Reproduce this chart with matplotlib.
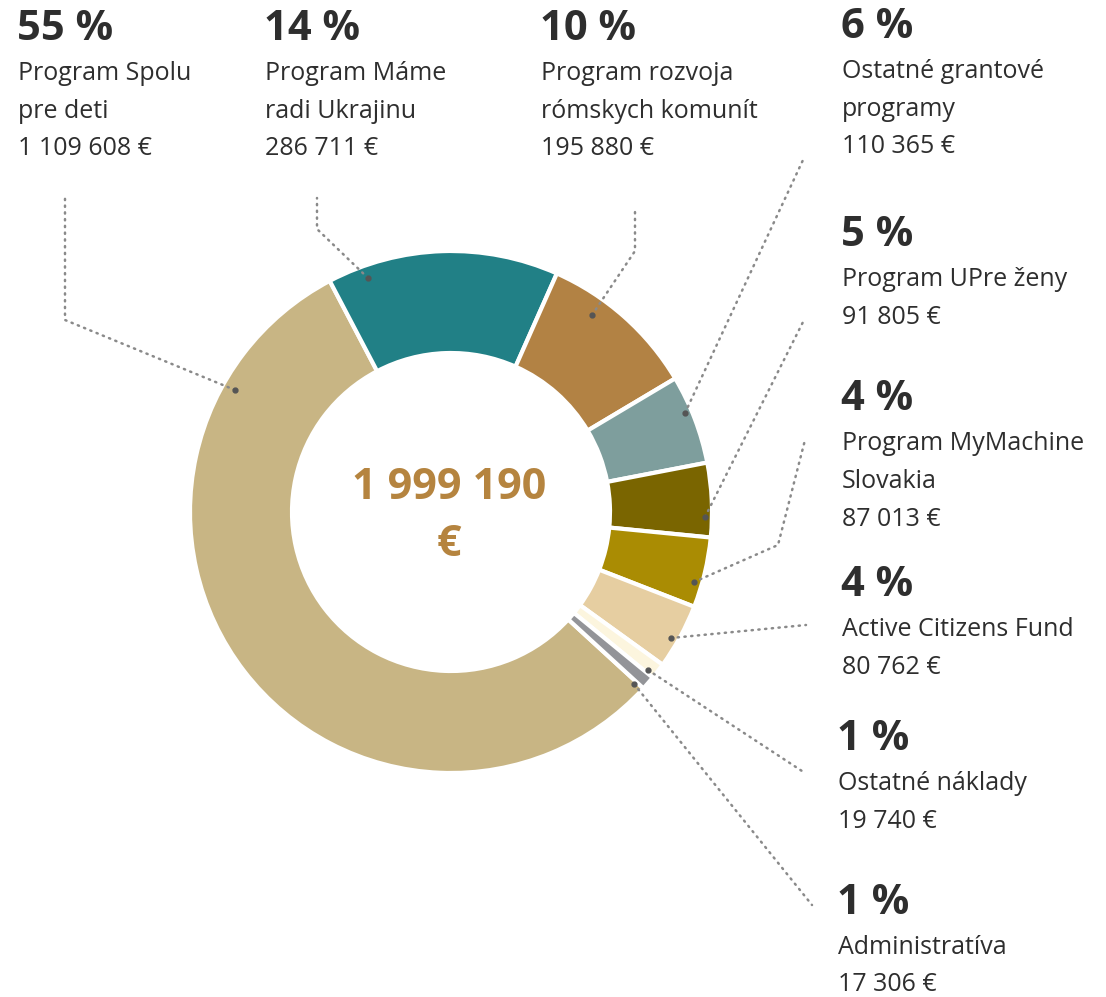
import matplotlib.pyplot as plt

# data
nazvy = [
    "Program Spolu\npre deti",
    "Program Máme\nradi Ukrajinu",
    "Program rozvoja\nrómskych komunít",
    "Ostatné grantové\nprogramy",
    "Program UPre ženy",
    "Program MyMachine\nSlovakia",
    "Active Citizens Fund",
    "Ostatné náklady",
    "Administratíva",
]
hodnoty = [1109608, 286711, 195880, 110365, 91805, 87013, 80762, 19740, 17306]
percenta = ["55 %", "14 %", "10 %", "6 %", "5 %", "4 %", "4 %", "1 %", "1 %"]
farby = ["#C8B584", "#218086", "#B28244", "#7E9E9D", "#7A6500",
         "#AA8C03", "#E6CEA1", "#FCF5DE", "#939498"]

W, H = 1106, 997
TEXT = "#2E2E2E"
FONT = "Open Sans"


def Y(y):  # pixel y (zhora) -> suradnica osi
    return H - y


def suma_text(v):
    return f"{v:,}".replace(",", " ") + " €"


fig = plt.figure(figsize=(W / 100, H / 100), dpi=100)
ax = fig.add_axes([0, 0, 1, 1])

ax.pie(hodnoty, colors=farby, startangle=-42.5, counterclock=False,
       radius=261, center=(451, Y(512)),
       wedgeprops=dict(width=102, edgecolor="white", linewidth=3))
ax.set_xlim(0, W)
ax.set_ylim(0, H)
ax.set_aspect("equal")
ax.axis("off")

# stred
ax.text(449, Y(488), suma_text(sum(hodnoty))[:-2], ha="center", va="center",
        fontsize=31, fontweight="bold", color="#B5843F", family=FONT)
ax.text(449, Y(545), "€", ha="center", va="center",
        fontsize=31, fontweight="bold", color="#B5843F", family=FONT)

# popisky: (x, y stredu percent)
pozicie = [(17, 30), (264, 30), (540, 30), (841, 28), (841, 236),
           (841, 400), (841, 586), (837, 740), (837, 903)]
for i, (x, y) in enumerate(pozicie):
    ax.text(x, Y(y), percenta[i], ha="left", va="center", fontsize=30,
            fontweight="bold", color=TEXT, family=FONT)
    riadky = nazvy[i].split("\n") + [suma_text(hodnoty[i])]
    for k, r in enumerate(riadky):
        ax.text(x + 1, Y(y + 44 + 37.5 * k), r, ha="left", va="center",
                fontsize=18, color=TEXT, family=FONT)

# vodiace ciary
ciary = [
    [(235, 390), (65, 320), (65, 197)],
    [(368, 278), (317, 229), (317, 198)],
    [(592, 315), (635, 251), (635, 208)],
    [(685, 413), (803, 160)],
    [(705, 517), (803, 322)],
    [(694, 582), (778, 545), (805, 440)],
    [(671, 638), (806, 625)],
    [(648, 670), (805, 773)],
    [(634, 684), (812, 905)],
]
for c in ciary:
    xs = [p[0] for p in c]
    ys = [Y(p[1]) for p in c]
    ax.plot(xs, ys, color="#8A8A8A", lw=1.8, linestyle=(0, (0.5, 2.2)),
            dash_capstyle="round", solid_capstyle="round")
    ax.plot(xs[0], ys[0], "o", color="#555555", ms=3.5)

fig.savefig("out.png", dpi=100, facecolor="white")
